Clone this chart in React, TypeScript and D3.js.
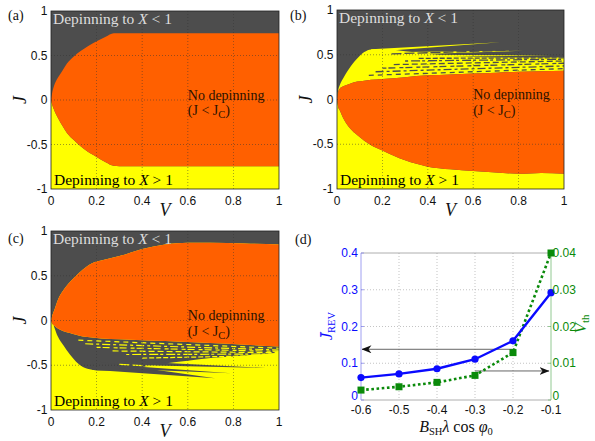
import React from 'react';
import * as d3 from 'd3';

// ---------- shared axis data ----------
const V_TICKS = [0, 0.2, 0.4, 0.6, 0.8, 1];
const V_TICK_LABELS = ['0', '0.2', '0.4', '0.6', '0.8', '1'];
const J_TICKS = [-1, -0.5, 0, 0.5, 1];
const J_TICK_LABELS = ['-1', '-0.5', '0', '0.5', '1'];

// ---------- panel (a) boundaries ----------
const aV = [0, 0.005, 0.012, 0.03, 0.05, 0.07, 0.1, 0.13, 0.16, 0.2, 0.24, 0.275, 0.3, 0.4, 0.6, 0.8, 1];
const aTop = [0, 0.08, 0.15, 0.25, 0.33, 0.41, 0.49, 0.55, 0.6, 0.66, 0.71, 0.75, 0.75, 0.75, 0.75, 0.75, 0.75];
const aBot = [0, -0.05, -0.1, -0.2, -0.29, -0.37, -0.45, -0.52, -0.58, -0.64, -0.7, -0.74, -0.745, -0.745, -0.745, -0.745, -0.745];

// ---------- panel (b) boundaries ----------
const bV = [0, 0.005, 0.012, 0.03, 0.06, 0.09, 0.12, 0.15, 0.2, 0.3, 0.4, 0.5, 0.6, 0.7, 0.8, 0.9, 1];
const bTop = [0, 0.08, 0.12, 0.15, 0.18, 0.2, 0.21, 0.22, 0.23, 0.25, 0.27, 0.28, 0.29, 0.3, 0.31, 0.315, 0.32];
const bBot = [0, -0.08, -0.12, -0.22, -0.33, -0.4, -0.46, -0.51, -0.57, -0.68, -0.75, -0.78, -0.8, -0.815, -0.83, -0.82, -0.83];
const bEnv = [0, 0.1, 0.16, 0.25, 0.37, 0.46, 0.53, 0.56, 0.565, 0.54, 0.51, 0.485, 0.475, 0.47, 0.47, 0.47, 0.47];
// yellow streaks reaching up into the grey zone
const bStreakV0 = [0.15, 0.28, 0.4];
const bStreakHi0 = [0.562, 0.53, 0.5];
const bStreakLo0 = [0.53, 0.5, 0.475];
const bStreakV1 = [0.72, 0.82, 0.94];
const bStreakJ1 = [0.64, 0.545, 0.49];
// grey stripes inside the yellow band
const bStripeV0 = [0.14, 0.17, 0.2, 0.25, 0.3, 0.36, 0.24];
const bStripeJ0 = [0.27, 0.31, 0.35, 0.39, 0.43, 0.46, 0.51];
const bStripeV1 = [1, 1, 1, 1, 1, 1, 0.75];
const bStripeJ1 = [0.345, 0.375, 0.405, 0.43, 0.45, 0.465, 0.55];

// ---------- panel (c) boundaries ----------
const cV = [0, 0.005, 0.015, 0.03, 0.055, 0.083, 0.11, 0.14, 0.18, 0.22, 0.3, 0.4, 0.5, 0.6, 0.7, 0.85, 1];
const cTop = [0, 0.05, 0.12, 0.23, 0.34, 0.43, 0.5, 0.57, 0.64, 0.67, 0.72, 0.8, 0.85, 0.87, 0.87, 0.86, 0.85];
const cBot = [0, -0.03, -0.06, -0.09, -0.12, -0.14, -0.16, -0.18, -0.19, -0.2, -0.21, -0.22, -0.23, -0.24, -0.25, -0.27, -0.29];
const cEnv = [0, -0.01, -0.08, -0.18, -0.28, -0.38, -0.46, -0.52, -0.55, -0.56, -0.55, -0.52, -0.48, -0.45, -0.42, -0.39, -0.36];
// grey streaks reaching down into the yellow zone
const cStreakV0 = [0.18, 0.3, 0.4];
const cStreakHi0 = [-0.45, -0.5, -0.46];
const cStreakLo0 = [-0.55, -0.54, -0.5];
const cStreakV1 = [0.72, 0.79, 0.94];
const cStreakJ1 = [-0.645, -0.59, -0.53];
// yellow stripes inside the grey band
const cStripeV0 = [0.12, 0.15, 0.2, 0.27, 0.33, 0.4, 0.3];
const cStripeJ0 = [-0.22, -0.26, -0.3, -0.34, -0.38, -0.42, -0.49];
const cStripeV1 = [1, 1, 1, 1, 1, 1, 0.7];
const cStripeJ1 = [-0.31, -0.33, -0.345, -0.36, -0.375, -0.39, -0.55];

// ---------- panel (d) data ----------
const dX = [-0.6, -0.5, -0.4, -0.3, -0.2, -0.1];
const dX_LABELS = ['-0.6', '-0.5', '-0.4', '-0.3', '-0.2', '-0.1'];
const dJrev = [0.061, 0.071, 0.085, 0.111, 0.161, 0.292];
const dVth = [0.0027, 0.0036, 0.0048, 0.0067, 0.0129, 0.04];
const dLeftTicks = [0, 0.1, 0.2, 0.3, 0.4];
const dLeftLabels = ['0', '0.1', '0.2', '0.3', '0.4'];
const dRightTicks = [0, 0.01, 0.02, 0.03, 0.04];
const dRightLabels = ['0', '0.01', '0.02', '0.03', '0.04'];
const arrowLeftJ = 0.138;
const arrowLeftX = [-0.2, -0.6];
const arrowRightV = 0.0079;
const arrowRightX = [-0.3, -0.1];

const GRAY = '#4d4d4d';
const YELLOW = '#ffff00';
const ORANGE = '#ff6000';
const SERIF = 'Liberation Serif, Times New Roman, Times, DejaVu Serif, serif';
const SANS = 'Liberation Sans, Arial, Helvetica, sans-serif';

type Box = { l: number; t: number; r: number; b: number };

function mkScales(box: Box) {
  const x = d3.scaleLinear().domain([0, 1]).range([box.l, box.r]);
  const y = d3.scaleLinear().domain([-1, 1]).range([box.b, box.t]);
  return { x, y };
}

function bandPath(x: any, y: any, V: number[], lo: number[] | number, hi: number[] | number) {
  const gl = (i: number) => (typeof lo === 'number' ? lo : lo[i]);
  const gh = (i: number) => (typeof hi === 'number' ? hi : hi[i]);
  return d3
    .area<number>()
    .x((v) => x(v))
    .y0((_, i) => y(gl(i)))
    .y1((_, i) => y(gh(i)))
    .curve(d3.curveMonotoneX)(V) as string;
}

function wedgePaths(x: any, y: any, v0: number[], hi0: number[], lo0: number[], v1: number[], j1: number[]) {
  return v0.map((_, i) => {
    const pts: [number, number][] = [
      [x(v0[i]), y(hi0[i])],
      [x(v1[i]), y(j1[i])],
      [x(v0[i]), y(lo0[i])],
    ];
    return (d3.line()(pts) as string) + 'Z';
  });
}

function stripePaths(x: any, y: any, v0: number[], j0: number[], v1: number[], j1: number[]) {
  return v0.map((_, i) => d3.line()([[x(v0[i]), y(j0[i])], [x(v1[i]), y(j1[i])]]) as string);
}

const DASHES = ['5 4', '8 3 3 3', '4 2 7 4', '6 3', '3 3 9 2', '5 2', '10 3'];

function HeatFrame({ box, id, tag, tagPos, children }: { box: Box; id: string; tag: string; tagPos: [number, number]; children: any }) {
  const { x, y } = mkScales(box);
  const midX = (box.l + box.r) / 2;
  const midY = (box.t + box.b) / 2;
  return (
    <g>
      <defs>
        <clipPath id={id}>
          <rect x={box.l} y={box.t} width={box.r - box.l} height={box.b - box.t} />
        </clipPath>
      </defs>
      <g clipPath={`url(#${id})`}>{children}</g>
      {/* grid */}
      {V_TICKS.slice(1, -1).map((v) => (
        <line key={'gv' + v} x1={x(v)} x2={x(v)} y1={box.t} y2={box.b} stroke="#333" strokeWidth={0.7} strokeDasharray="1 2" opacity={0.7} />
      ))}
      {J_TICKS.slice(1, -1).map((j) => (
        <line key={'gj' + j} x1={box.l} x2={box.r} y1={y(j)} y2={y(j)} stroke="#333" strokeWidth={0.7} strokeDasharray="1 2" opacity={0.7} />
      ))}
      <rect x={box.l} y={box.t} width={box.r - box.l} height={box.b - box.t} fill="none" stroke="#222" strokeWidth={0.8} />
      {V_TICKS.map((v, i) => (
        <text key={'tv' + v} x={x(v)} y={box.b + 16} fontFamily={SANS} fontSize={12} textAnchor="middle" fill="#111">
          {V_TICK_LABELS[i]}
        </text>
      ))}
      {J_TICKS.map((j, i) => (
        <text key={'tj' + j} x={box.l - 3.5} y={y(j) + 4} fontFamily={SANS} fontSize={12} textAnchor="end" fill="#111">
          {J_TICK_LABELS[i]}
        </text>
      ))}
      <text x={midX} y={box.b + 27} fontFamily={SERIF} fontStyle="italic" fontSize={18} textAnchor="middle" fill="#111">V</text>
      <text transform={`translate(${box.l - 25},${midY}) rotate(-90)`} fontFamily={SERIF} fontStyle="italic" fontSize={18} textAnchor="middle" fill="#111">J</text>
      <text x={tagPos[0]} y={tagPos[1]} fontFamily={SERIF} fontSize={14} fill="#111">{tag}</text>
      {/* region labels */}
      <text x={box.l + 2} y={box.t + 13} fontFamily={SERIF} fontSize={15.5} fill="#dddddd">
        Depinning to <tspan fontStyle="italic">X</tspan> &lt; 1
      </text>
      <text x={x(0.6)} y={y(0) - 0.5} fontFamily={SERIF} fontSize={14} fill="#2a1200">No depinning</text>
      <text x={x(0.6)} y={y(0) + 15} fontFamily={SERIF} fontSize={14} fill="#2a1200">
        (J &lt; J<tspan dy={3} fontSize={10.5}>C</tspan><tspan dy={-3}>)</tspan>
      </text>
      <text x={box.l + 3} y={box.b - 4.5} fontFamily={SERIF} fontSize={15.5} fill="#000">
        Depinning to <tspan fontStyle="italic">X</tspan> &gt; 1
      </text>
    </g>
  );
}

function PanelA() {
  const box = { l: 51, t: 11, r: 279, b: 189 };
  const { x, y } = mkScales(box);
  return (
    <HeatFrame box={box} id="clipA" tag="(a)" tagPos={[8, 20]}>
      <rect x={box.l} y={box.t} width={box.r - box.l} height={box.b - box.t} fill={GRAY} />
      <path d={bandPath(x, y, aV, -1, aBot)} fill={YELLOW} />
      <path d={bandPath(x, y, aV, aBot, aTop)} fill={ORANGE} />
    </HeatFrame>
  );
}

function PanelB() {
  const box = { l: 337, t: 10, r: 564, b: 189 };
  const { x, y } = mkScales(box);
  return (
    <HeatFrame box={box} id="clipB" tag="(b)" tagPos={[290, 20]}>
      <rect x={box.l} y={box.t} width={box.r - box.l} height={box.b - box.t} fill={GRAY} />
      <path d={bandPath(x, y, bV, -1, bBot)} fill={YELLOW} />
      <path d={bandPath(x, y, bV, bTop, bEnv)} fill={YELLOW} />
      {wedgePaths(x, y, bStreakV0, bStreakHi0, bStreakLo0, bStreakV1, bStreakJ1).map((d, i) => (
        <path key={'bw' + i} d={d} fill={YELLOW} />
      ))}
      {stripePaths(x, y, bStripeV0, bStripeJ0, bStripeV1, bStripeJ1).map((d, i) => (
        <path key={'bs' + i} d={d} stroke={GRAY} strokeWidth={1.3} strokeDasharray={DASHES[i]} fill="none" />
      ))}
      <path d={bandPath(x, y, bV, bBot, bTop)} fill={ORANGE} />
    </HeatFrame>
  );
}

function PanelC() {
  const box = { l: 51, t: 231, r: 279, b: 410 };
  const { x, y } = mkScales(box);
  return (
    <HeatFrame box={box} id="clipC" tag="(c)" tagPos={[8, 243]}>
      <rect x={box.l} y={box.t} width={box.r - box.l} height={box.b - box.t} fill={YELLOW} />
      <path d={bandPath(x, y, cV, cTop, 1)} fill={GRAY} />
      <path d={bandPath(x, y, cV, cEnv, cBot)} fill={GRAY} />
      {wedgePaths(x, y, cStreakV0, cStreakHi0, cStreakLo0, cStreakV1, cStreakJ1).map((d, i) => (
        <path key={'cw' + i} d={d} fill={GRAY} />
      ))}
      {stripePaths(x, y, cStripeV0, cStripeJ0, cStripeV1, cStripeJ1).map((d, i) => (
        <path key={'cs' + i} d={d} stroke={YELLOW} strokeWidth={1.2} strokeDasharray={DASHES[i]} fill="none" />
      ))}
      <path d={bandPath(x, y, cV, cBot, cTop)} fill={ORANGE} />
    </HeatFrame>
  );
}

function PanelD() {
  const box = { l: 361, t: 253, r: 551, b: 400 };
  const x = d3.scaleLinear().domain([-0.6, -0.1]).range([box.l, box.r]);
  const yL = d3.scaleLinear().domain([0, 0.4]).range([box.b, box.t]);
  const yR = d3.scaleLinear().domain([0, 0.04]).range([box.b, box.t]);
  const BLUE = '#0a0aff';
  const GREEN = '#0a8a0a';
  const blueLine = d3.line<number>().x((_, i) => x(dX[i])).y((d) => yL(d))(dJrev) as string;
  const greenLine = d3.line<number>().x((_, i) => x(dX[i])).y((d) => yR(d))(dVth) as string;
  return (
    <g>
      <defs>
        <marker id="arrowHead" viewBox="0 0 10 8" refX={9.5} refY={4} markerWidth={10} markerHeight={8} markerUnits="userSpaceOnUse" orient="auto">
          <path d="M0,0 L10,4 L0,8 L3,4 Z" fill="#111" />
        </marker>
      </defs>
      {dX.slice(1, -1).map((v) => (
        <line key={'dgx' + v} x1={x(v)} x2={x(v)} y1={box.t} y2={box.b} stroke="#aaa" strokeWidth={0.7} strokeDasharray="1 2" />
      ))}
      {dLeftTicks.slice(1, -1).map((v) => (
        <line key={'dgy' + v} x1={box.l} x2={box.r} y1={yL(v)} y2={yL(v)} stroke="#aaa" strokeWidth={0.7} strokeDasharray="1 2" />
      ))}
      <line x1={box.l} x2={box.r} y1={box.t} y2={box.t} stroke="#999" strokeWidth={0.8} />
      <line x1={box.l} x2={box.r} y1={box.b} y2={box.b} stroke="#999" strokeWidth={0.8} />
      <line x1={box.l} x2={box.l} y1={box.t} y2={box.b} stroke="#8888ee" strokeWidth={0.8} />
      <line x1={box.r} x2={box.r} y1={box.t} y2={box.b} stroke="#77bb77" strokeWidth={0.8} />
      {dLeftTicks.map((v) => (
        <line key={'tl' + v} x1={box.l} x2={box.l + 3} y1={yL(v)} y2={yL(v)} stroke="#8888ee" strokeWidth={0.8} />
      ))}
      {dRightTicks.map((v) => (
        <line key={'tr' + v} x1={box.r - 3} x2={box.r} y1={yR(v)} y2={yR(v)} stroke="#77bb77" strokeWidth={0.8} />
      ))}
      {/* arrows */}
      <line x1={x(arrowLeftX[0])} x2={x(arrowLeftX[1]) + 1} y1={yL(arrowLeftJ)} y2={yL(arrowLeftJ)} stroke="#555" strokeWidth={0.9} markerEnd="url(#arrowHead)" />
      <line x1={x(arrowRightX[0])} x2={x(arrowRightX[1]) - 2} y1={yR(arrowRightV)} y2={yR(arrowRightV)} stroke="#555" strokeWidth={0.9} markerEnd="url(#arrowHead)" />
      {/* series */}
      <path d={greenLine} stroke={GREEN} strokeWidth={2.6} strokeDasharray="2.6 2.6" fill="none" />
      {dVth.map((v, i) => (
        <rect key={'sq' + i} x={x(dX[i]) - 3.5} y={yR(v) - 3.5} width={7} height={7} fill={GREEN} />
      ))}
      <path d={blueLine} stroke={BLUE} strokeWidth={2.4} fill="none" />
      {dJrev.map((v, i) => (
        <circle key={'ci' + i} cx={x(dX[i])} cy={yL(v)} r={3.6} fill={BLUE} />
      ))}
      {/* tick labels */}
      {dX.map((v, i) => (
        <text key={'dxl' + v} x={x(v)} y={box.b + 14} fontFamily={SANS} fontSize={12} textAnchor="middle" fill="#111">{dX_LABELS[i]}</text>
      ))}
      {dLeftTicks.map((v, i) => (
        <text key={'dll' + v} x={box.l - 3} y={yL(v) + (i === 0 ? 0 : 4)} fontFamily={SANS} fontSize={12} textAnchor="end" fill={BLUE}>{dLeftLabels[i]}</text>
      ))}
      {dRightTicks.map((v, i) => (
        <text key={'drl' + v} x={box.r + 1.5} y={yR(v) + (i === 0 ? 0 : 4)} fontFamily={SANS} fontSize={12} textAnchor="start" fill={GREEN}>{dRightLabels[i]}</text>
      ))}
      {/* axis labels */}
      <text transform={`translate(${box.l - 29},${326}) rotate(-90)`} fontFamily={SERIF} fontSize={16} textAnchor="middle" fill={BLUE}>
        <tspan fontStyle="italic">J̄</tspan><tspan dy={3} fontSize={10.5}>REV</tspan>
      </text>
      <text transform={`translate(${box.r + 35},${324}) rotate(-90)`} fontFamily={SERIF} fontSize={17} textAnchor="middle" fill={GREEN}>
        <tspan fontStyle="italic">V</tspan><tspan dy={3} fontSize={11}>th</tspan>
      </text>
      <text x={(box.l + box.r) / 2} y={432} fontFamily={SERIF} fontSize={16} textAnchor="middle" fill="#111">
        <tspan fontStyle="italic">B</tspan><tspan dy={3} fontSize={10.5}>SH</tspan><tspan dy={-3} fontStyle="italic">λ</tspan> cos <tspan fontStyle="italic">φ</tspan><tspan dy={3} fontSize={10.5}>0</tspan>
      </text>
      <text x={295} y={244} fontFamily={SERIF} fontSize={14} fill="#111">(d)</text>
    </g>
  );
}

export default function App() {
  return (
    <svg width={595} height={441} style={{ position: 'absolute', left: 0, top: 0, display: 'block', background: '#fff' }}>
      <rect width={595} height={441} fill="#fff" />
      <PanelA />
      <PanelB />
      <PanelC />
      <PanelD />
    </svg>
  );
}
